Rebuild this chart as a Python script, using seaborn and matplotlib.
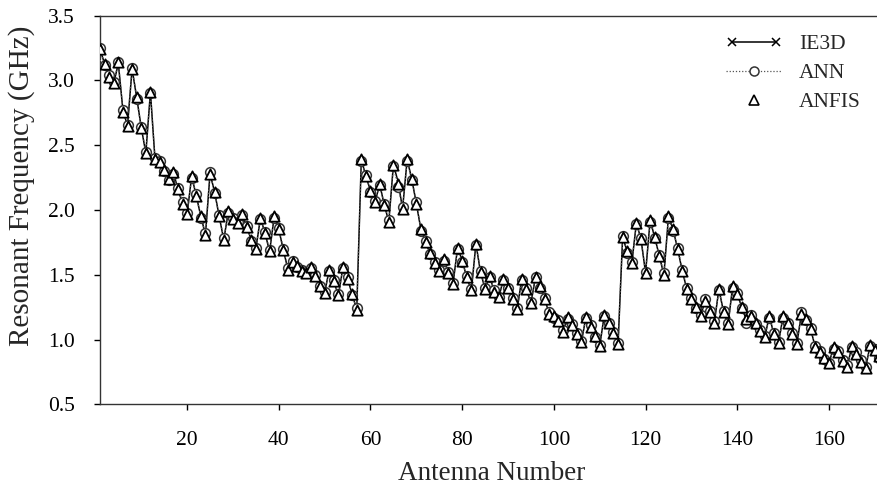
import numpy as np
import pandas as pd
import matplotlib
matplotlib.use("Agg")
import matplotlib.pyplot as plt
import seaborn as sns
from matplotlib.legend_handler import HandlerLine2D
from matplotlib.lines import Line2D

sns.set_theme(style="ticks")
plt.rcParams['font.family'] = ['Liberation Serif', 'DejaVu Serif']

antenna = list(range(1, 172))

ie3d = [3.24, 3.13, 3.03, 2.98, 3.13, 2.77, 2.65, 3.09, 2.87, 2.635,
        2.44, 2.91, 2.39, 2.37, 2.31, 2.24, 2.29, 2.16, 2.05, 1.97,
        2.26, 2.11, 1.95, 1.81, 2.28, 2.14, 1.95, 1.77, 1.99, 1.93,
        1.90, 1.97, 1.87, 1.77, 1.70, 1.94, 1.82, 1.68, 1.95, 1.85,
        1.69, 1.54, 1.60, 1.57, 1.53, 1.515, 1.56, 1.49, 1.415, 1.36,
        1.54, 1.45, 1.34, 1.56, 1.47, 1.35, 1.23, 2.39, 2.26, 2.15,
        2.06, 2.20, 2.04, 1.91, 2.35, 2.22, 2.01, 2.39, 2.24, 2.05,
        1.85, 1.75, 1.665, 1.59, 1.53, 1.62, 1.51, 1.43, 1.71, 1.61,
        1.48, 1.38, 1.74, 1.52, 1.39, 1.49, 1.37, 1.325, 1.47, 1.395,
        1.31, 1.235, 1.47, 1.39, 1.28, 1.485, 1.41, 1.31, 1.20, 1.18,
        1.145, 1.06, 1.175, 1.11, 1.04, 0.98, 1.175, 1.10, 1.03, 0.95,
        1.19, 1.125, 1.05, 0.965, 1.79, 1.68, 1.59, 1.90, 1.775, 1.515,
        1.92, 1.79, 1.645, 1.50, 1.95, 1.85, 1.70, 1.53, 1.39, 1.31,
        1.25, 1.18, 1.30, 1.215, 1.13, 1.39, 1.215, 1.12, 1.41, 1.35,
        1.25, 1.15, 1.18, 1.13, 1.065, 1.02, 1.18, 1.04, 0.975, 1.18,
        1.125, 1.04, 0.965, 1.20, 1.155, 1.08, 0.945, 0.90, 0.86, 0.815,
        0.94, 0.90, 0.835, 0.79, 0.95, 0.89, 0.83, 0.78, 0.96, 0.92,
        0.87]

ann = [3.25, 3.12, 3.04, 2.99, 3.14, 2.77, 2.66, 3.10, 2.86, 2.64,
       2.45, 2.90, 2.40, 2.38, 2.30, 2.23, 2.28, 2.17, 2.06, 1.98,
       2.25, 2.12, 1.94, 1.82, 2.29, 2.13, 1.96, 1.78, 1.98, 1.94,
       1.91, 1.96, 1.88, 1.76, 1.71, 1.93, 1.83, 1.69, 1.94, 1.86,
       1.70, 1.55, 1.61, 1.56, 1.54, 1.52, 1.55, 1.50, 1.41, 1.37,
       1.53, 1.46, 1.35, 1.55, 1.48, 1.34, 1.24, 2.38, 2.27, 2.14,
       2.07, 2.19, 2.05, 1.92, 2.34, 2.18, 2.02, 2.38, 2.23, 2.06,
       1.84, 1.76, 1.66, 1.60, 1.54, 1.61, 1.52, 1.44, 1.70, 1.60,
       1.49, 1.39, 1.73, 1.53, 1.40, 1.48, 1.38, 1.33, 1.46, 1.40,
       1.32, 1.24, 1.46, 1.40, 1.29, 1.48, 1.40, 1.32, 1.21, 1.17,
       1.15, 1.07, 1.16, 1.12, 1.05, 0.99, 1.17, 1.11, 1.02, 0.96,
       1.18, 1.13, 1.06, 0.97, 1.80, 1.67, 1.60, 1.89, 1.78, 1.52,
       1.91, 1.78, 1.65, 1.51, 1.94, 1.84, 1.71, 1.54, 1.40, 1.32,
       1.24, 1.19, 1.31, 1.22, 1.14, 1.38, 1.22, 1.13, 1.40, 1.36,
       1.24, 1.13, 1.19, 1.12, 1.07, 1.03, 1.17, 1.05, 0.98, 1.17,
       1.13, 1.05, 0.97, 1.21, 1.15, 1.09, 0.95, 0.91, 0.85, 0.82,
       0.93, 0.91, 0.84, 0.80, 0.94, 0.90, 0.84, 0.79, 0.95, 0.93,
       0.86]

anfis = [3.24, 3.13, 3.03, 2.98, 3.14, 2.76, 2.65, 3.09, 2.87, 2.63,
         2.44, 2.91, 2.39, 2.37, 2.31, 2.24, 2.29, 2.16, 2.05, 1.97,
         2.26, 2.11, 1.95, 1.81, 2.28, 2.14, 1.95, 1.77, 1.99, 1.93,
         1.90, 1.97, 1.87, 1.77, 1.70, 1.94, 1.82, 1.68, 1.95, 1.85,
         1.69, 1.54, 1.60, 1.57, 1.53, 1.515, 1.56, 1.49, 1.415, 1.36,
         1.54, 1.45, 1.34, 1.56, 1.47, 1.35, 1.23, 2.39, 2.26, 2.15,
         2.06, 2.20, 2.04, 1.91, 2.35, 2.20, 2.01, 2.39, 2.24, 2.05,
         1.85, 1.75, 1.665, 1.59, 1.53, 1.62, 1.51, 1.43, 1.71, 1.61,
         1.48, 1.38, 1.74, 1.52, 1.39, 1.49, 1.37, 1.325, 1.47, 1.395,
         1.31, 1.235, 1.47, 1.39, 1.28, 1.485, 1.41, 1.31, 1.20, 1.18,
         1.145, 1.06, 1.175, 1.11, 1.04, 0.98, 1.175, 1.10, 1.03, 0.95,
         1.19, 1.125, 1.05, 0.965, 1.79, 1.68, 1.59, 1.90, 1.775, 1.515,
         1.92, 1.79, 1.645, 1.50, 1.95, 1.85, 1.70, 1.53, 1.39, 1.31,
         1.25, 1.18, 1.30, 1.215, 1.13, 1.39, 1.215, 1.12, 1.41, 1.35,
         1.25, 1.16, 1.18, 1.13, 1.065, 1.02, 1.18, 1.04, 0.975, 1.18,
         1.125, 1.04, 0.965, 1.20, 1.155, 1.08, 0.945, 0.90, 0.86, 0.815,
         0.94, 0.90, 0.835, 0.79, 0.95, 0.89, 0.83, 0.78, 0.96, 0.92,
         0.87]

x_ticks = [20, 40, 60, 80, 100, 120, 140, 160]
y_ticks = [0.5, 1.0, 1.5, 2.0, 2.5, 3.0, 3.5]

df = pd.DataFrame({"Antenna": antenna, "IE3D": ie3d, "ANN": ann, "ANFIS": anfis})

W, H = 878, 487
fig = plt.figure(figsize=(W / 100, H / 100), dpi=100)
ax_left, ax_top, ax_bottom = 100, 15.7, 404.3
ax = fig.add_axes([ax_left / W, (H - ax_bottom) / H, 1 - ax_left / W, (ax_bottom - ax_top) / H])
ax_h = ax_bottom - ax_top
ax_w = W - ax_left

sns.lineplot(data=df, x="Antenna", y="IE3D", ax=ax, color="black", linewidth=1.1,
             marker="x", markersize=5.5, markeredgewidth=1.1, legend=False, zorder=3)
sns.lineplot(data=df, x="Antenna", y="ANN", ax=ax, color="#555555", linewidth=0.9,
             linestyle=(0, (1, 1.5)), marker="o", markersize=7,
             markerfacecolor="white", markeredgecolor="#333333", markeredgewidth=1.1,
             legend=False, zorder=4)
sns.scatterplot(data=df, x="Antenna", y="ANFIS", ax=ax, marker="^", s=55,
                facecolor="white", edgecolor="black", linewidth=1.3,
                legend=False, zorder=5)

ax.set_xlim(1, 170.7)
ax.set_ylim(0.5, 3.5)
ax.set_xticks(x_ticks)
ax.set_yticks(y_ticks)
ax.set_yticklabels([f"{v:.1f}" for v in y_ticks])
ax.tick_params(axis="both", direction="out", length=4, width=1, labelsize=15.5,
               colors="black")
ax.tick_params(axis="y", pad=14)
ax.tick_params(axis="x", pad=15)
for s in ["left", "bottom", "top"]:
    ax.spines[s].set_visible(True)
    ax.spines[s].set_color("#333333")
    ax.spines[s].set_linewidth(1.0)
ax.spines["right"].set_visible(False)

ax.set_xlabel("Antenna Number", fontsize=19.5)
ax.set_ylabel("Resonant Frequency (GHz)", fontsize=21)
ax.xaxis.label.set_va("center")
ax.yaxis.label.set_va("center")
ax.xaxis.set_label_coords((492 - ax_left) / ax_w, (ax_bottom - 474) / ax_h)
ax.yaxis.set_label_coords((22 - ax_left) / ax_w, (ax_bottom - 186) / ax_h)

h_ie3d = Line2D([], [], color="black", linewidth=1.1, marker="x", markersize=6,
                markeredgewidth=1.1)
h_ann = Line2D([], [], color="#555555", linewidth=0.9, linestyle=(0, (1, 1.5)),
               marker="o", markersize=6.5, markerfacecolor="white",
               markeredgecolor="#333333", markeredgewidth=1.1)
h_anfis = Line2D([], [], linestyle="none", marker="^", markersize=6.5,
                 markerfacecolor="white", markeredgecolor="black", markeredgewidth=1.2)
leg = ax.legend([h_ie3d, h_ann, h_anfis], ["IE3D", "ANN", "ANFIS"],
                handler_map={h_ie3d: HandlerLine2D(numpoints=2),
                             h_ann: HandlerLine2D(numpoints=1),
                             h_anfis: HandlerLine2D(numpoints=1)},
                loc="upper left",
                bbox_to_anchor=((726 - ax_left) / ax_w, 1 - (34 - ax_top) / ax_h),
                frameon=False, borderpad=0, borderaxespad=0,
                fontsize=15.5, handlelength=2.6, handletextpad=0.8,
                labelspacing=0.42)

fig.savefig("out.png", dpi=100, facecolor="white")
